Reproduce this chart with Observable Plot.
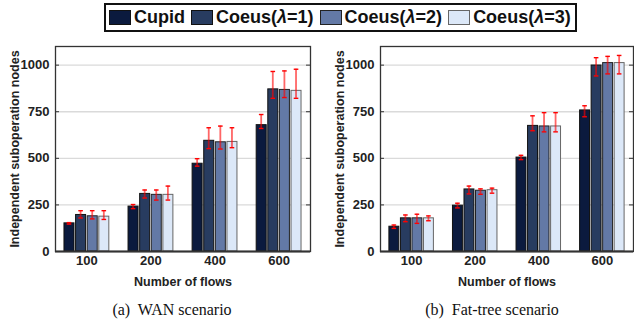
<!DOCTYPE html>
<html><head><meta charset="utf-8">
<script src="https://cdn.jsdelivr.net/npm/d3@7"></script>
<script src="https://cdn.jsdelivr.net/npm/@observablehq/plot@0.6"></script>
<style>
body{margin:0;background:#fff;width:634px;height:325px;position:relative;overflow:hidden;font-family:"Liberation Sans",Arial,sans-serif;}
#legend{position:absolute;left:104px;top:3px;width:473px;height:29px;box-sizing:border-box;border:2px solid #111;display:flex;align-items:center;font-weight:bold;font-size:18px;color:#111;padding-left:3px;white-space:nowrap}
.item{display:flex;align-items:center;margin-right:6px}
.sw{width:22px;height:15px;box-sizing:border-box;border:1px solid #111;margin-right:3px}
.cap{position:absolute;top:301px;font-family:"Liberation Serif","Times New Roman",serif;font-size:16px;color:#111;transform:translateX(-50%);white-space:nowrap}
#a{position:absolute;left:0;top:30px}
#b{position:absolute;left:325px;top:30px}
svg text{font-weight:bold}
[aria-label="y-axis label"] text{font-size:12.5px}
[aria-label="x-axis label"] text{font-size:12.5px}
</style></head><body>
<div id="legend"></div>
<div id="a"></div><div id="b"></div>
<div class="cap" style="left:172px">(a)&nbsp; WAN scenario</div>
<div class="cap" style="left:492px">(b)&nbsp; Fat-tree scenario</div>
<script>
const flows = ["100", "200", "400", "600"];
const series = ["Cupid", "Coeus(λ=1)", "Coeus(λ=2)", "Coeus(λ=3)"];
const colors = ["#0b1a3e", "#283c60", "#6379a6", "#dce8f8"];
const strokes = ["#111", "#111", "#222", "#666"];
const yTicks = [0, 250, 500, 750, 1000];

// WAN scenario
const wanVal = [[151, 241, 471, 678], [196, 309, 594, 870], [189, 304, 586, 867], [187, 304, 588, 862]];
const wanLo  = [[147, 230, 458, 660], [180, 287, 552, 822], [175, 276, 550, 826], [172, 276, 557, 822]];
const wanHi  = [[155, 252, 498, 735], [219, 330, 664, 966], [219, 330, 673, 969], [219, 351, 664, 978]];
// Fat-tree scenario
const ftVal = [[133, 246, 504, 757], [178, 333, 674, 998], [178, 326, 671, 1011], [178, 329, 671, 1011]];
const ftLo  = [[124, 234, 493, 723], [160, 309, 648, 942], [151, 307, 642, 953], [165, 313, 642, 953]];
const ftHi  = [[142, 259, 516, 782], [196, 351, 728, 1040], [200, 336, 745, 1047], [191, 340, 745, 1052]];

// legend
const lg = document.getElementById("legend");
series.forEach((s, i) => {
  const it = document.createElement("div"); it.className = "item";
  const sw = document.createElement("div"); sw.className = "sw";
  sw.style.background = colors[i]; sw.style.borderColor = strokes[i];
  const t = document.createElement("span");
  t.innerHTML = s.replace("λ", "<i>λ</i>");
  it.appendChild(sw); it.appendChild(t); lg.appendChild(it);
});

function build(vals, lo, hi, width, mLeft, mRight, bw) {
  const rows = [];
  series.forEach((s, i) => flows.forEach((f, j) => rows.push({flow: f, series: s, i, v: vals[i][j], lo: lo[i][j], hi: hi[i][j]})));
  const mTop = 16, mBottom = 40, height = 261;
  const innerW = width - mLeft - mRight;
  const gap = 1.6;
  const step = (bw + gap) / 4;
  const w = step - gap;
  const marks = [
    Plot.gridY(yTicks.filter(t => t > 0), {stroke: "#dadada", strokeOpacity: 1, strokeWidth: 1.3}),
  ];
  series.forEach((s, i) => {
    const d = rows.filter(r => r.i === i);
    const left = i * step;
    marks.push(Plot.barY(d, {x: "flow", y: "v", fill: colors[i], stroke: strokes[i], strokeWidth: 1, insetLeft: left, insetRight: bw - left - w}));
  });
  series.forEach((s, i) => {
    const d = rows.filter(r => r.i === i);
    const c = i * step + w / 2;
    marks.push(Plot.barY(d, {x: "flow", y1: "lo", y2: "hi", fill: "red", fillOpacity: 0.6, insetLeft: c - 0.9, insetRight: bw - c - 0.9}));
    marks.push(Plot.tickY(d, {x: "flow", y: "lo", stroke: "red", strokeWidth: 1.4, insetLeft: c - 2.3, insetRight: bw - c - 2.3}));
    marks.push(Plot.tickY(d, {x: "flow", y: "hi", stroke: "red", strokeWidth: 1.4, insetLeft: c - 2.3, insetRight: bw - c - 2.3}));
  });
  marks.push(
    Plot.tickY(yTicks, {y: d => d, stroke: "#333", insetRight: innerW - 4}),
    Plot.tickY(yTicks, {y: d => d, stroke: "#333", insetLeft: innerW - 4}),
    Plot.frame({stroke: "#333", strokeWidth: 1.3}),
    Plot.ruleY([0], {stroke: "#333", strokeWidth: 2}),
    Plot.axisY(yTicks, {tickSize: 0, tickPadding: 6, fontSize: 13, tickFormat: d => String(d), label: "Independent suboperation nodes", labelAnchor: "center", labelOffset: 45, labelArrow: false}),
    Plot.axisX({tickSize: 0, tickPadding: 4, fontSize: 13, label: "Number of flows", labelAnchor: "center", labelOffset: 34, labelArrow: false})
  );
  return Plot.plot({
    width, height, marginLeft: mLeft, marginRight: mRight, marginTop: mTop, marginBottom: mBottom,
    style: {fontFamily: "'Liberation Sans', Arial, sans-serif", color: "#222", background: "transparent"},
    x: {domain: flows, paddingInner: 0.3, paddingOuter: 0.14, round: false},
    y: {domain: [0, 1100]},
    marks
  });
}

function render(id, vals, lo, hi, width, mLeft, mRight) {
  const probe = build(vals, lo, hi, width, mLeft, mRight, 45);
  const bw = probe.scale("x").bandwidth;
  const el = build(vals, lo, hi, width, mLeft, mRight, bw);
  document.getElementById(id).appendChild(el);
}
render("a", wanVal, wanLo, wanHi, 317, 55, 7);
render("b", ftVal, ftLo, ftHi, 309, 55, 1);
</script>
</body></html>
